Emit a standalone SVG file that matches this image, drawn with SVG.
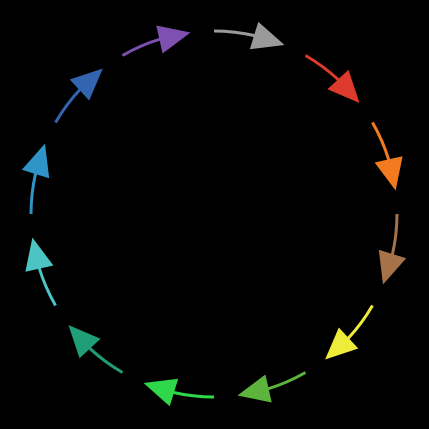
<svg xmlns="http://www.w3.org/2000/svg" width="429" height="429" viewBox="0 0 429 429">
<style>
.arr path{fill:none;stroke-width:3;stroke-linecap:butt}
.arr polygon{stroke:none}
.c0{stroke:#9a9a9a;fill:#9a9a9a}
.c1{stroke:#dd3a2e;fill:#dd3a2e}
.c2{stroke:#f47a20;fill:#f47a20}
.c3{stroke:#a87248;fill:#a87248}
.c4{stroke:#eeec38;fill:#eeec38}
.c5{stroke:#5cb43c;fill:#5cb43c}
.c6{stroke:#2ed84a;fill:#2ed84a}
.c7{stroke:#1f9e78;fill:#1f9e78}
.c8{stroke:#4cc4c4;fill:#4cc4c4}
.c9{stroke:#2e94c8;fill:#2e94c8}
.c10{stroke:#3264b0;fill:#3264b0}
.c11{stroke:#7e50b0;fill:#7e50b0}
</style>
<rect width="429" height="429" fill="#000"/>
<g id="connectors">
<g id="arrow-0" class="arr c0" transform="rotate(0 214 214)"><path d="M 214 31 A 183 183 0 0 1 255.5 35.8"/><polygon points="284.5,45 258.3,21.8 249.8,49.2"/></g>
<g id="arrow-1" class="arr c1" transform="rotate(30 214 214)"><path d="M 214 31 A 183 183 0 0 1 255.5 35.8"/><polygon points="284.5,45 258.3,21.8 249.8,49.2"/></g>
<g id="arrow-2" class="arr c2" transform="rotate(60 214 214)"><path d="M 214 31 A 183 183 0 0 1 255.5 35.8"/><polygon points="284.5,45 258.3,21.8 249.8,49.2"/></g>
<g id="arrow-3" class="arr c3" transform="rotate(90 214 214)"><path d="M 214 31 A 183 183 0 0 1 255.5 35.8"/><polygon points="284.5,45 258.3,21.8 249.8,49.2"/></g>
<g id="arrow-4" class="arr c4" transform="rotate(120 214 214)"><path d="M 214 31 A 183 183 0 0 1 255.5 35.8"/><polygon points="284.5,45 258.3,21.8 249.8,49.2"/></g>
<g id="arrow-5" class="arr c5" transform="rotate(150 214 214)"><path d="M 214 31 A 183 183 0 0 1 255.5 35.8"/><polygon points="284.5,45 258.3,21.8 249.8,49.2"/></g>
<g id="arrow-6" class="arr c6" transform="rotate(180 214 214)"><path d="M 214 31 A 183 183 0 0 1 255.5 35.8"/><polygon points="284.5,45 258.3,21.8 249.8,49.2"/></g>
<g id="arrow-7" class="arr c7" transform="rotate(210 214 214)"><path d="M 214 31 A 183 183 0 0 1 255.5 35.8"/><polygon points="284.5,45 258.3,21.8 249.8,49.2"/></g>
<g id="arrow-8" class="arr c8" transform="rotate(240 214 214)"><path d="M 214 31 A 183 183 0 0 1 255.5 35.8"/><polygon points="284.5,45 258.3,21.8 249.8,49.2"/></g>
<g id="arrow-9" class="arr c9" transform="rotate(270 214 214)"><path d="M 214 31 A 183 183 0 0 1 255.5 35.8"/><polygon points="284.5,45 258.3,21.8 249.8,49.2"/></g>
<g id="arrow-10" class="arr c10" transform="rotate(300 214 214)"><path d="M 214 31 A 183 183 0 0 1 255.5 35.8"/><polygon points="284.5,45 258.3,21.8 249.8,49.2"/></g>
<g id="arrow-11" class="arr c11" transform="rotate(330 214 214)"><path d="M 214 31 A 183 183 0 0 1 255.5 35.8"/><polygon points="284.5,45 258.3,21.8 249.8,49.2"/></g>
</g>
</svg>
